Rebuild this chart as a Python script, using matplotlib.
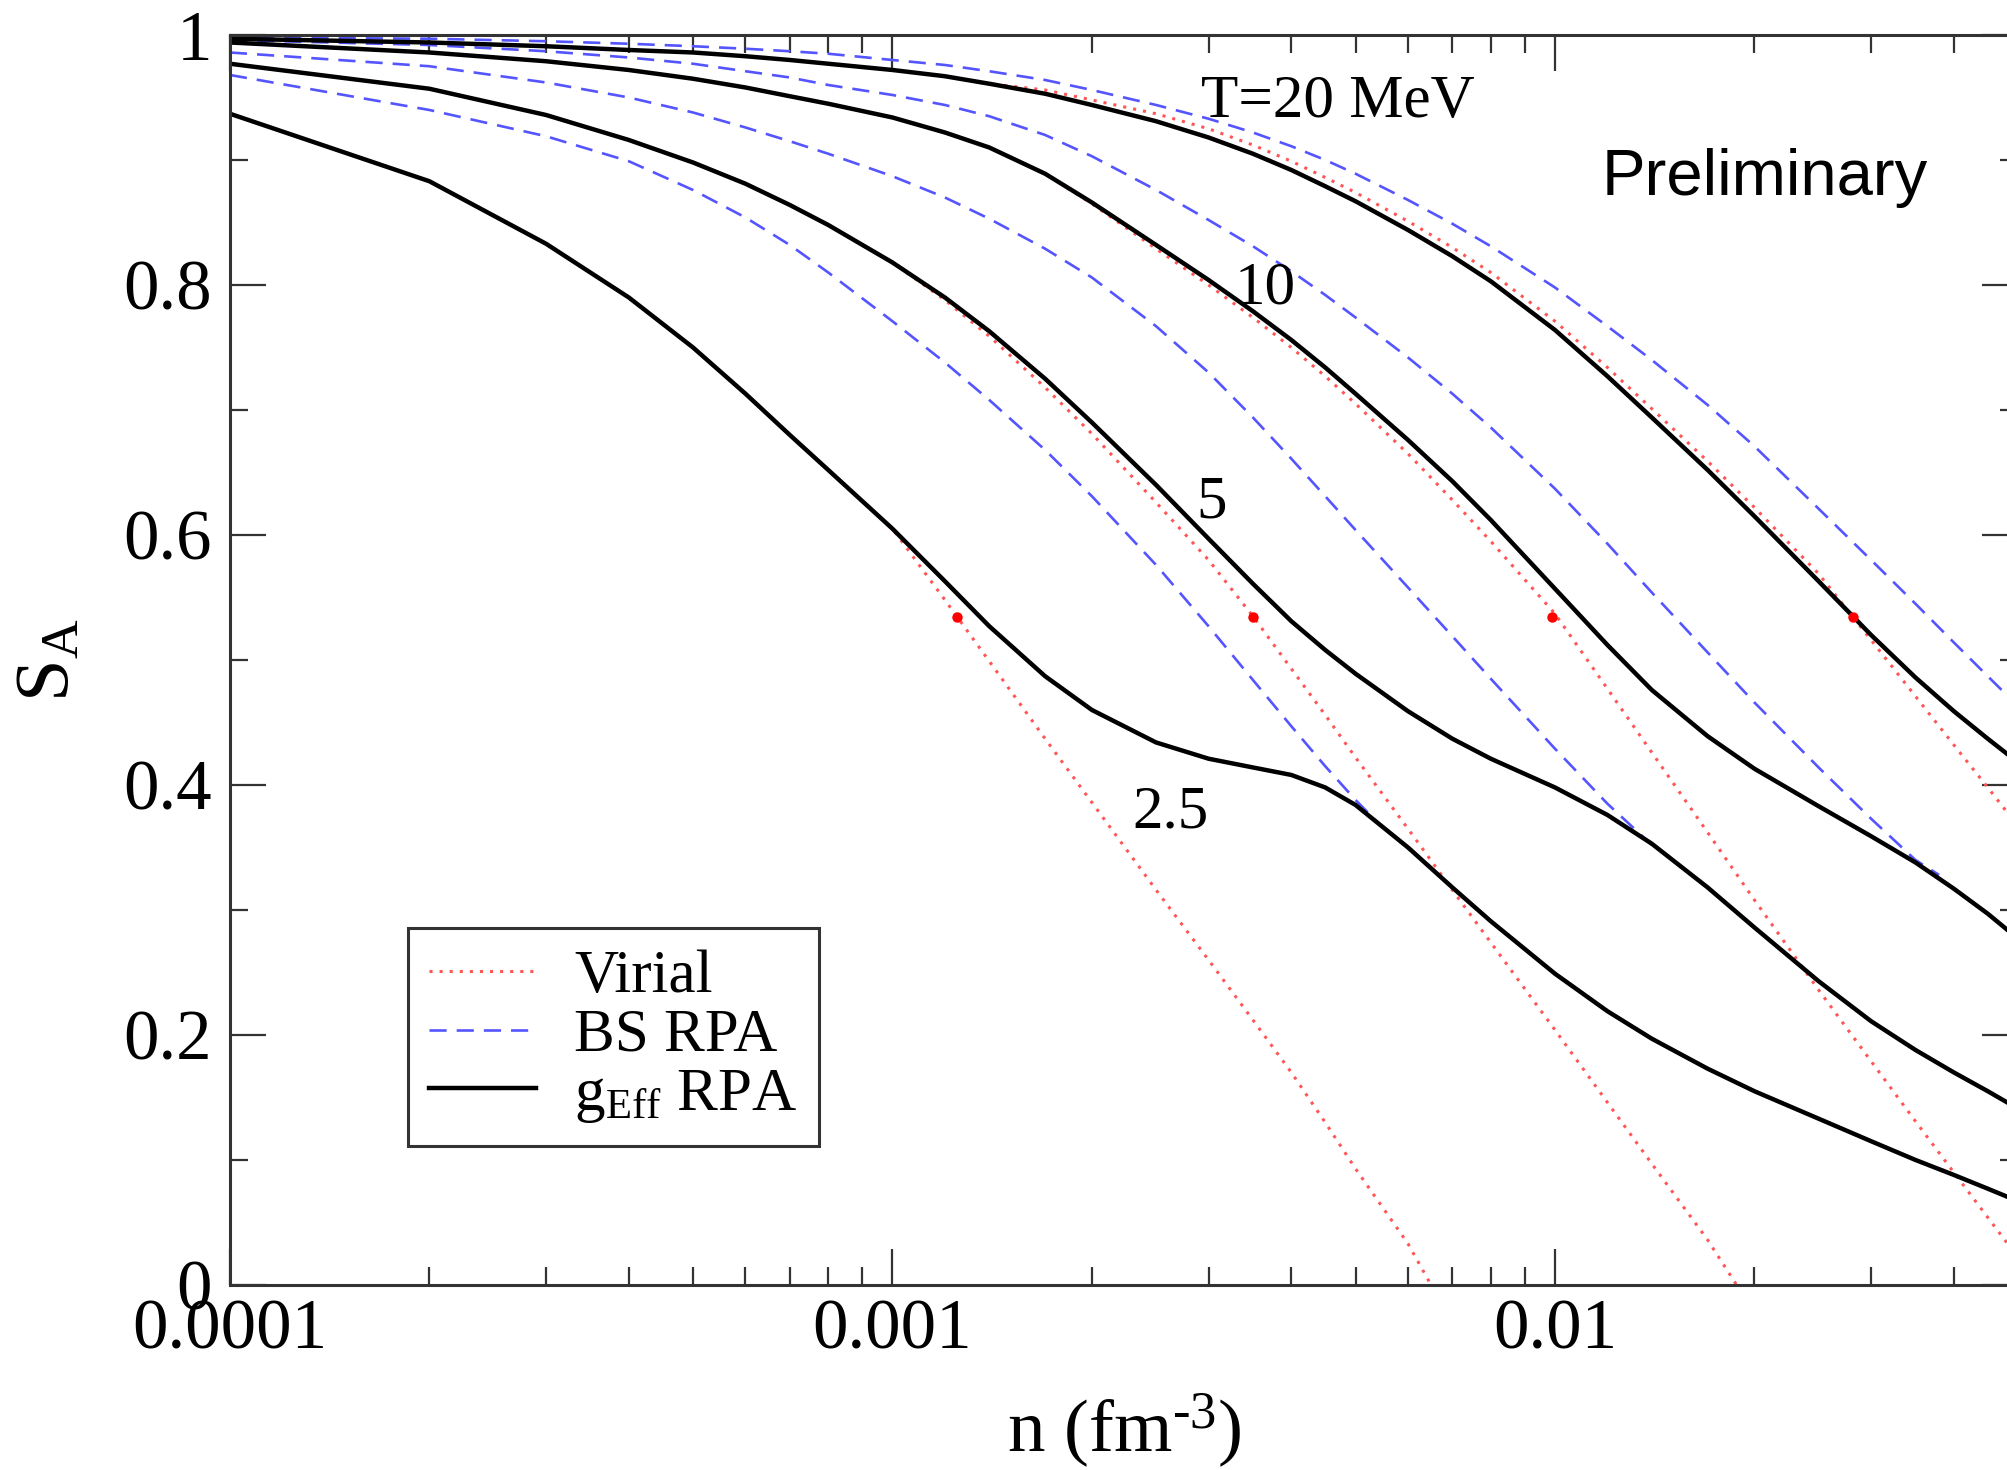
import matplotlib
matplotlib.use("Agg")
import matplotlib.pyplot as plt
from matplotlib.ticker import FixedLocator, FixedFormatter, LogLocator, MultipleLocator, NullFormatter

plt.rcParams['font.family'] = 'serif'
plt.rcParams['font.serif'] = ['Liberation Serif', 'DejaVu Serif']
plt.rcParams['mathtext.fontset'] = 'custom'
plt.rcParams['mathtext.rm'] = 'Liberation Serif'
plt.rcParams['mathtext.it'] = 'Liberation Serif:italic'

# density grid (fm^-3)
n_grid = [1e-4, 2e-4, 3e-4, 4e-4, 5e-4, 6e-4, 7e-4, 8e-4, 1e-3, 1.2e-3, 1.4e-3,
          1.7e-3, 2e-3, 2.5e-3, 3e-3, 3.5e-3, 4e-3, 4.5e-3, 5e-3, 6e-3, 7e-3,
          8e-3, 1e-2, 1.2e-2, 1.4e-2, 1.7e-2, 2e-2, 2.5e-2, 3e-2, 3.5e-2, 4e-2,
          4.5e-2, 5e-2]

# g_Eff RPA
geff_25 = [0.937, 0.883, 0.833, 0.790, 0.750, 0.713, 0.680, 0.652, 0.605, 0.563, 0.527,
           0.487, 0.460, 0.434, 0.421, 0.414, 0.408, 0.398, 0.384, 0.350, 0.318,
           0.291, 0.249, 0.219, 0.197, 0.173, 0.155, 0.133, 0.115, 0.100, 0.088,
           0.077, 0.067]
geff_5 = [0.977, 0.957, 0.936, 0.916, 0.898, 0.881, 0.864, 0.848, 0.818, 0.790, 0.763,
          0.725, 0.690, 0.640, 0.597, 0.561, 0.531, 0.508, 0.489, 0.459, 0.437,
          0.421, 0.398, 0.376, 0.353, 0.318, 0.286, 0.243, 0.211, 0.188, 0.170,
          0.155, 0.141]
geff_10 = [0.994, 0.986, 0.979, 0.972, 0.965, 0.958, 0.951, 0.945, 0.934, 0.922, 0.910,
           0.889, 0.866, 0.832, 0.804, 0.779, 0.756, 0.734, 0.713, 0.676, 0.643,
           0.612, 0.557, 0.512, 0.476, 0.439, 0.413, 0.383, 0.359, 0.338, 0.317,
           0.297, 0.277]
geff_20 = [0.997, 0.994, 0.991, 0.988, 0.986, 0.983, 0.980, 0.977, 0.972, 0.967, 0.961,
           0.953, 0.944, 0.931, 0.918, 0.905, 0.892, 0.879, 0.867, 0.844, 0.823,
           0.803, 0.764, 0.727, 0.694, 0.652, 0.615, 0.563, 0.520, 0.486, 0.459,
           0.437, 0.418]

# Virial
n_vir_25 = [1e-4, 2e-4, 3e-4, 4e-4, 5e-4, 6e-4, 7e-4, 8e-4, 1e-3, 1.2e-3, 1.4e-3,
            1.7e-3, 2e-3, 2.5e-3, 3e-3, 3.5e-3, 4e-3, 4.5e-3, 5e-3, 6e-3, 6.5e-3]
vir_25 = [0.937, 0.883, 0.833, 0.790, 0.750, 0.713, 0.680, 0.652, 0.605, 0.548, 0.499,
          0.437, 0.386, 0.316, 0.260, 0.212, 0.170, 0.130, 0.093, 0.033, 0.0]
n_vir_5 = [1e-4, 2e-4, 3e-4, 4e-4, 5e-4, 6e-4, 7e-4, 8e-4, 1e-3, 1.2e-3, 1.4e-3,
           1.7e-3, 2e-3, 2.5e-3, 3e-3, 3.5e-3, 4e-3, 4.5e-3, 5e-3, 6e-3, 7e-3,
           8e-3, 1e-2, 1.2e-2, 1.4e-2, 1.7e-2, 1.88e-2]
vir_5 = [0.977, 0.957, 0.936, 0.916, 0.898, 0.881, 0.864, 0.848, 0.818, 0.788, 0.759,
         0.718, 0.681, 0.626, 0.580, 0.535, 0.493, 0.456, 0.422, 0.365, 0.316,
         0.274, 0.204, 0.146, 0.097, 0.036, 0.0]
vir_10 = [0.994, 0.986, 0.979, 0.972, 0.965, 0.958, 0.951, 0.945, 0.934, 0.922, 0.910,
          0.889, 0.865, 0.829, 0.800, 0.774, 0.750, 0.727, 0.705, 0.665, 0.628,
          0.595, 0.537, 0.477, 0.426, 0.362, 0.308, 0.236, 0.179, 0.131, 0.090,
          0.054, 0.022]
vir_20 = [0.997, 0.994, 0.991, 0.988, 0.986, 0.983, 0.980, 0.977, 0.972, 0.967, 0.961,
          0.956, 0.948, 0.937, 0.925, 0.912, 0.899, 0.886, 0.874, 0.851, 0.830,
          0.810, 0.771, 0.734, 0.701, 0.659, 0.622, 0.569, 0.516, 0.471, 0.432,
          0.398, 0.367]

# BS RPA
n_bs_25 = [1e-4, 2e-4, 3e-4, 4e-4, 5e-4, 6e-4, 7e-4, 8e-4, 1e-3, 1.2e-3, 1.4e-3,
           1.7e-3, 2e-3, 2.5e-3, 3e-3, 3.5e-3, 4e-3, 4.5e-3, 5e-3, 5.4e-3]
bs_25 = [0.968, 0.940, 0.919, 0.899, 0.876, 0.854, 0.832, 0.810, 0.771, 0.738, 0.708,
         0.668, 0.631, 0.576, 0.527, 0.484, 0.447, 0.415, 0.388, 0.370]
n_bs_5 = [1e-4, 2e-4, 3e-4, 4e-4, 5e-4, 6e-4, 7e-4, 8e-4, 1e-3, 1.2e-3, 1.4e-3,
          1.7e-3, 2e-3, 2.5e-3, 3e-3, 3.5e-3, 4e-3, 4.5e-3, 5e-3, 6e-3, 7e-3,
          8e-3, 1e-2, 1.2e-2, 1.4e-2]
bs_5 = [0.986, 0.975, 0.962, 0.950, 0.938, 0.926, 0.915, 0.905, 0.887, 0.870, 0.853,
        0.829, 0.806, 0.767, 0.730, 0.694, 0.661, 0.631, 0.604, 0.558, 0.519,
        0.485, 0.429, 0.385, 0.352]
n_bs_10 = n_grid[:30] + [3.8e-2]
bs_10 = [0.996, 0.992, 0.987, 0.982, 0.977, 0.971, 0.966, 0.960, 0.952, 0.944, 0.935,
         0.920, 0.903, 0.876, 0.852, 0.831, 0.811, 0.792, 0.774, 0.742, 0.713,
         0.686, 0.637, 0.593, 0.554, 0.506, 0.466, 0.414, 0.373, 0.340, 0.328]
bs_20 = [0.998, 0.997, 0.995, 0.993, 0.991, 0.989, 0.987, 0.985, 0.980, 0.976, 0.971,
         0.964, 0.956, 0.944, 0.933, 0.922, 0.911, 0.900, 0.889, 0.868, 0.849,
         0.831, 0.798, 0.767, 0.740, 0.704, 0.671, 0.621, 0.580, 0.545, 0.514,
         0.487, 0.463]

# points marked on the virial curves
dot_n = [1.25e-3, 3.5e-3, 9.9e-3, 2.82e-2]
dot_s = [0.534, 0.534, 0.534, 0.534]

# temperature labels
temp_text = ['2.5', '5', '10', 'T=20 MeV']
temp_n = [2.3e-3, 2.88e-3, 3.29e-3, 2.92e-3]
temp_s = [0.366, 0.614, 0.785, 0.934]

xtick_vals = [1e-4, 1e-3, 1e-2]
xtick_text = ['0.0001', '0.001', '0.01']
ytick_vals = [0, 0.2, 0.4, 0.6, 0.8, 1.0]
ytick_text = ['0', '0.2', '0.4', '0.6', '0.8', '1']

red = '#ff5555'
blue = '#5555ff'

fig = plt.figure(figsize=(20.08, 14.70), dpi=100)
ax = fig.add_axes([0.1145, 0.1259, 0.8905, 0.8503])

vir_style = dict(color=red, lw=2.2, ls=(0, (1, 2.3)))
bs_style = dict(color=blue, lw=1.9, ls=(0, (6.5, 3.8)))
geff_style = dict(color='black', lw=3.2)

ax.plot(n_vir_25, vir_25, **vir_style, label='Virial')
ax.plot(n_vir_5, vir_5, **vir_style)
ax.plot(n_grid, vir_10, **vir_style)
ax.plot(n_grid, vir_20, **vir_style)

ax.plot(n_bs_25, bs_25, **bs_style, label='BS RPA')
ax.plot(n_bs_5, bs_5, **bs_style)
ax.plot(n_bs_10, bs_10, **bs_style)
ax.plot(n_grid, bs_20, **bs_style)

ax.plot(n_grid, geff_25, **geff_style, label=r'g$_{\rm Eff}$ RPA')
ax.plot(n_grid, geff_5, **geff_style)
ax.plot(n_grid, geff_10, **geff_style)
ax.plot(n_grid, geff_20, **geff_style)

ax.plot(dot_n, dot_s, 'o', color='red', ms=7.5, mec='none', zorder=5)

for txt, xn, ys in zip(temp_text, temp_n, temp_s):
    ax.text(xn, ys, txt, fontsize=44, ha='left', va='baseline')

ax.text(0.01178, 0.872, 'Preliminary', fontsize=47, family='Liberation Sans',
        ha='left', va='baseline')

ax.set_xscale('log')
ax.set_xlim(1e-4, 5e-2)
ax.set_ylim(0, 1)

ax.xaxis.set_major_locator(FixedLocator(xtick_vals))
ax.xaxis.set_major_formatter(FixedFormatter(xtick_text))
ax.xaxis.set_minor_locator(LogLocator(base=10, subs=range(2, 10), numticks=20))
ax.xaxis.set_minor_formatter(NullFormatter())
ax.yaxis.set_major_locator(FixedLocator(ytick_vals))
ax.yaxis.set_major_formatter(FixedFormatter(ytick_text))
ax.yaxis.set_minor_locator(MultipleLocator(0.1))

ax.tick_params(which='both', direction='in', top=True, right=True, color='#333333')
ax.tick_params(which='major', length=26, width=1.6, labelsize=51)
ax.tick_params(which='minor', length=13, width=1.6)
ax.tick_params(axis='y', pad=13)
ax.tick_params(axis='x', pad=10)
for sp in ax.spines.values():
    sp.set_linewidth(2.2)
    sp.set_color('#333333')

ax.set_xlabel(r'n (fm$^{\text{-3}}$)', fontsize=54, labelpad=20)
ax.set_ylabel(r'S$_{\rm A}$', fontsize=55, labelpad=28)

leg = ax.legend(loc='upper left', bbox_to_anchor=(0.0996, 0.2856), fontsize=44,
                frameon=True, fancybox=False, framealpha=1, borderpad=0.35,
                handlelength=1.75, handletextpad=0.62, labelspacing=0.05,
                borderaxespad=0)
leg.get_frame().set_edgecolor('#333333')
leg.get_frame().set_linewidth(2.2)

fig.savefig('out.png', dpi=100)
